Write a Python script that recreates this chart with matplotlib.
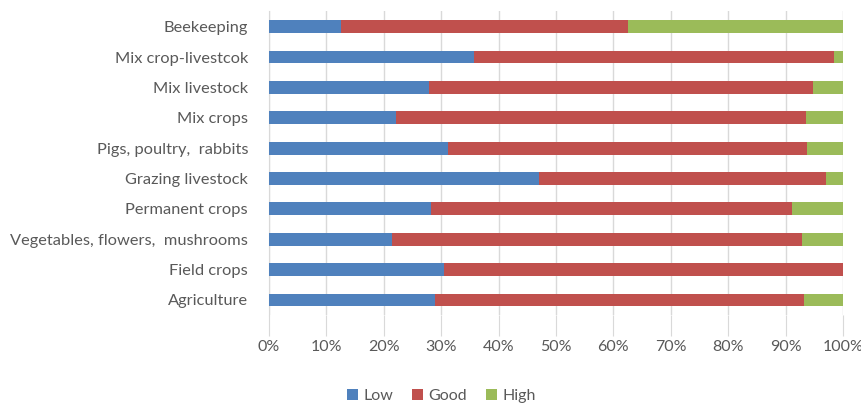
"""Stacked 100% horizontal bars: Low / Good / High share per farm type."""

import matplotlib
matplotlib.use("Agg")
import matplotlib.pyplot as plt
import numpy as np
from matplotlib.ticker import PercentFormatter

categories = ["Agriculture", "Field crops", "Vegetables, flowers,  mushrooms",
              "Permanent crops", "Grazing livestock", "Pigs, poultry,  rabbits",
              "Mix crops", "Mix livestock", "Mix crop-livestcok", "Beekeeping"]
low = [29.0, 30.5, 21.5, 28.3, 47.0, 31.2, 22.2, 27.9, 35.8, 12.5]
good = [64.2, 69.5, 71.4, 62.8, 50.1, 62.6, 71.4, 66.8, 62.6, 50.0]
high = [6.8, 0.0, 7.1, 8.9, 2.9, 6.2, 6.4, 5.3, 1.6, 37.5]
series_names = ["Low", "Good", "High"]
series_colors = ["#4F81BD", "#C0504D", "#9BBB59"]

plt.rcParams["font.family"] = ["Lato", "DejaVu Sans"]
text_color = "#595959"

fig = plt.figure(figsize=(8.62, 4.03), dpi=100)
ax = fig.add_axes([0.312, 0.218, 0.666, 0.7535])

y = np.arange(len(categories))
left = np.zeros(len(categories))
for name, vals, color in zip(series_names, [low, good, high], series_colors):
    vals = np.asarray(vals)
    ax.barh(y, vals, left=left, height=0.42, color=color, label=name, zorder=3)
    left += vals

ax.set_xlim(0, 100)
ax.set_ylim(-0.5, len(categories) - 0.5)
ax.set_xticks(np.arange(0, 101, 10))
ax.xaxis.set_major_formatter(PercentFormatter(decimals=0))
ax.set_yticks(y)
ax.set_yticklabels(categories)

ax.grid(axis="x", color="#D9D9D9", linewidth=1, zorder=0)
for side in ["top", "right", "bottom"]:
    ax.spines[side].set_visible(False)
ax.spines["left"].set_color("#D9D9D9")
ax.tick_params(axis="y", length=0, pad=15, labelsize=11.8, labelcolor=text_color)
ax.tick_params(axis="x", length=15, color="#D9D9D9", pad=3, labelsize=11.5,
               labelcolor=text_color)

fig.legend(loc="center", bbox_to_anchor=(0.512, 0.018), ncol=3, frameon=False,
           fontsize=11.5, labelcolor=text_color, handlelength=0.7, handleheight=0.7,
           handletextpad=0.3, columnspacing=1.2)

fig.savefig("out.png", dpi=100)
